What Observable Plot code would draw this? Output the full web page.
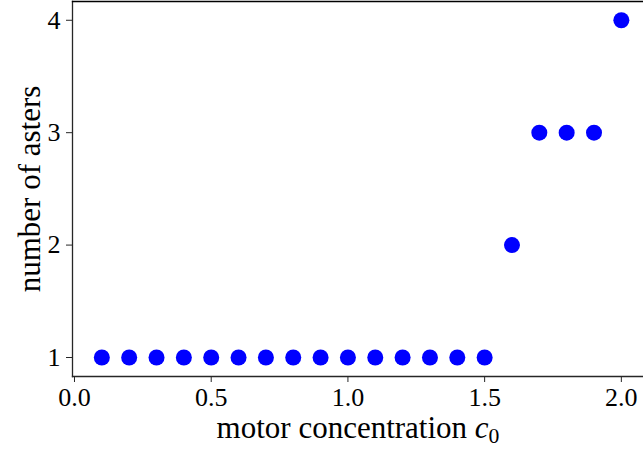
<!DOCTYPE html>
<html>
<head>
<meta charset="utf-8">
<script src="https://cdn.jsdelivr.net/npm/d3@7"></script>
<script src="https://cdn.jsdelivr.net/npm/@observablehq/plot@0.6"></script>
<style>
  html, body { margin: 0; padding: 0; background: white; }
</style>
</head>
<body>
<div id="chart"></div>
<script>
const concentration = [0.1, 0.2, 0.3, 0.4, 0.5, 0.6, 0.7, 0.8, 0.9, 1.0, 1.1, 1.2, 1.3, 1.4, 1.5, 1.6, 1.7, 1.8, 1.9, 2.0];
const asters = [1, 1, 1, 1, 1, 1, 1, 1, 1, 1, 1, 1, 1, 1, 1, 2, 3, 3, 3, 4];
const xTicks = [0, 0.5, 1.0, 1.5, 2.0];
const yTicks = [1, 2, 3, 4];
const xLabel = "motor concentration";
const yLabel = "number of asters";

const data = concentration.map((c, i) => ({c, n: asters[i]}));
const font = "'Liberation Serif', 'DejaVu Serif', serif";
const ink = "#262626";

const plot = Plot.plot({
  width: 643,
  height: 451,
  marginLeft: 72,
  marginRight: 0,
  marginTop: 1,
  marginBottom: 75,
  style: {fontFamily: font, fontSize: "26px", background: "white", color: "black"},
  x: {domain: [-0.0073, 2.081]},
  y: {domain: [0.831, 4.167]},
  marks: [
    Plot.frame({anchor: "left", stroke: ink, strokeWidth: 1.3}),
    Plot.frame({anchor: "bottom", stroke: ink, strokeWidth: 1.3}),
    Plot.frame({anchor: "top", stroke: "black", strokeWidth: 1.3}),
    Plot.axisX({ticks: xTicks, tickFormat: d3.format(".1f"), tickSize: 6, tickPadding: 5,
      fontSize: 26, label: xLabel, labelAnchor: "center", labelOffset: 61, stroke: ink}),
    Plot.axisY({ticks: yTicks, tickFormat: d3.format("d"), tickSize: 6, tickPadding: 6,
      fontSize: 26, label: yLabel, labelAnchor: "center", labelOffset: 55, stroke: ink}),
    Plot.dot(data, {x: "c", y: "n", r: 8, fill: "#0000ff", stroke: "none"})
  ]
});

document.getElementById("chart").appendChild(plot);

// typeset labels: drop arrows, italic c with subscript 0
d3.select(plot).selectAll("text").each(function() {
  const t = d3.select(this);
  const s = t.text();
  if (s.startsWith(xLabel)) {
    t.text(null);
    t.append("tspan").text(xLabel + " ");
    t.append("tspan").attr("font-style", "italic").text("c");
    t.append("tspan").attr("font-size", "0.7em").attr("dy", "0.25em").text("0");
    t.style("font-family", font).style("font-size", "31px");
    d3.select(this.parentNode).style("font-family", font).style("font-size", "31px");
  } else if (s.startsWith(yLabel) || s.endsWith(yLabel)) {
    t.text(yLabel).style("font-family", font).style("font-size", "31px");
    d3.select(this.parentNode).style("font-family", font).style("font-size", "31px");
  }
});
</script>
</body>
</html>
